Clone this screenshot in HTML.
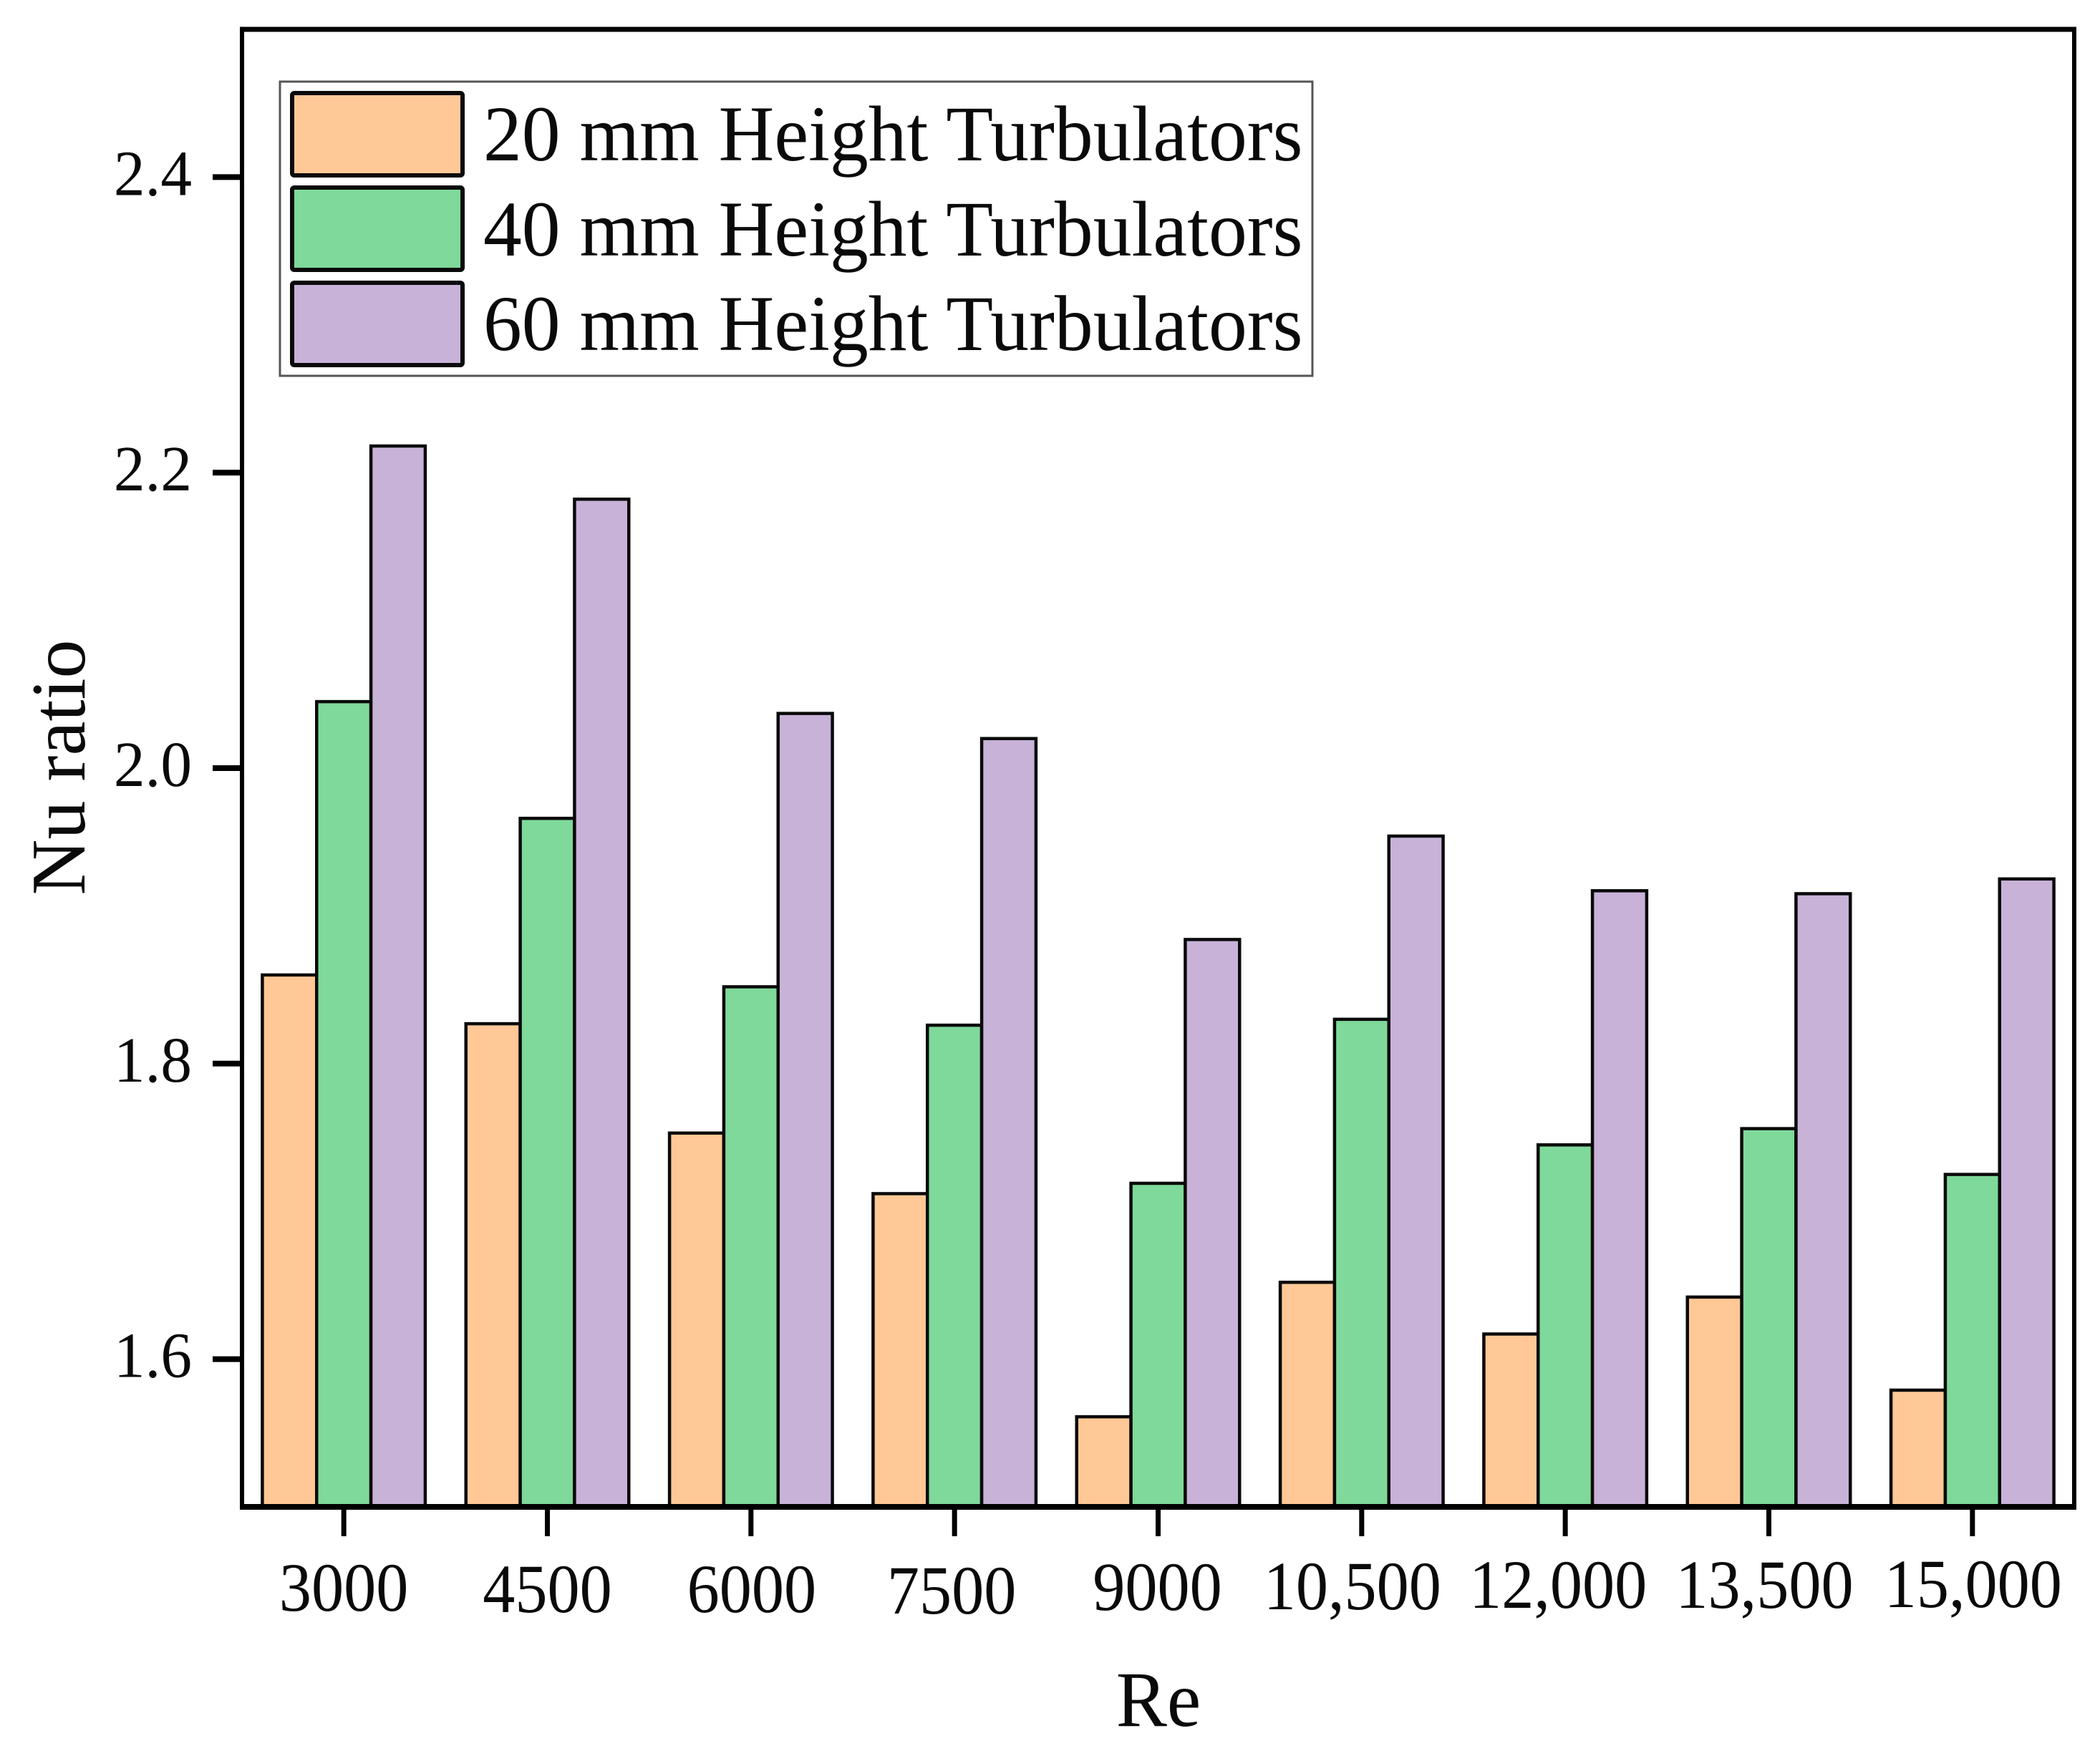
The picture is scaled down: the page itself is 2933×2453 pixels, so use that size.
<!DOCTYPE html>
<html lang="en">
<head>
<meta charset="utf-8">
<title>Nu ratio vs Re</title>
<style>
  html, body { margin: 0; padding: 0; background: #fff; }
  svg { display: block; }
  text { font-family: "Liberation Serif", "Times New Roman", serif; fill: #0a0a0a; }
</style>
</head>
<body>
<svg id="chart" xmlns="http://www.w3.org/2000/svg" width="2933" height="2453" viewBox="0 0 2933 2453">
  <rect x="0" y="0" width="2933" height="2453" fill="#ffffff"/>
  <g id="bars"></g>
  <g id="axes"></g>
  <text transform="translate(1618 2411) scale(0.97 1)" font-size="110" text-anchor="middle">Re</text>
  <text transform="translate(118 1072) rotate(-90)" font-size="108" text-anchor="middle">Nu ratio</text>
  <g>
    <rect x="391" y="114" width="1442" height="411" fill="#ffffff" stroke="#555555" stroke-width="3"/>
    <g>
      <rect x="408" y="130" width="238" height="115" rx="3" fill="#FFC896" stroke="#0a0a0a" stroke-width="6"/>
      <text transform="translate(675 224) scale(0.978 1)" font-size="110">20 mm Height Turbulators</text>
    </g>
    <g>
      <rect x="408" y="262" width="238" height="115" rx="3" fill="#7FD99A" stroke="#0a0a0a" stroke-width="6"/>
      <text transform="translate(675 357) scale(0.978 1)" font-size="110">40 mm Height Turbulators</text>
    </g>
    <g>
      <rect x="408" y="395" width="238" height="115" rx="3" fill="#C8B2D8" stroke="#0a0a0a" stroke-width="6"/>
      <text transform="translate(675 489) scale(0.978 1)" font-size="110">60 mm Height Turbulators</text>
    </g>
  </g>
</svg>
<script>
// Chart data
const categories = ["3000", "4500", "6000", "7500", "9000", "10,500", "12,000", "13,500", "15,000"];
const height20 = [1.860, 1.827, 1.753, 1.712, 1.561, 1.652, 1.617, 1.642, 1.579];
const height40 = [2.045, 1.966, 1.852, 1.826, 1.719, 1.830, 1.745, 1.756, 1.725];
const height60 = [2.218, 2.182, 2.037, 2.020, 1.884, 1.954, 1.917, 1.915, 1.925];
const yTicks = [1.6, 1.8, 2.0, 2.2, 2.4];
const yTickLabels = ["1.6", "1.8", "2.0", "2.2", "2.4"];

// Layout
const plot = { left: 338, right: 2897, top: 41, bottom: 2105 };
const yMin = 1.5;
const yMax = 2.5;
const SVG_NS = "http://www.w3.org/2000/svg";
const step = (plot.right - plot.left) / categories.length;
const barWidth = step * 0.2667;

function xScale(i) { return plot.left + step * (i + 0.5); }
function yScale(v) { return plot.bottom - (v - yMin) / (yMax - yMin) * (plot.bottom - plot.top); }

// Small hand-placement offsets of the category labels seen in the figure
const labelShiftX = [0, 0, 1, -4, -1, -13, -10, -6, 1];
const labelShiftY = [-1, 1, 1, 3, -2, -3, -5, -5, -6];

function make(tag, attrs, parent) {
  const el = document.createElementNS(SVG_NS, tag);
  for (const k in attrs) el.setAttribute(k, attrs[k]);
  parent.appendChild(el);
  return el;
}

const barsGroup = document.getElementById("bars");
const axesGroup = document.getElementById("axes");

function drawSeries(values, offset, fill, seriesName) {
  values.forEach(function (v, i) {
    const top = yScale(v);
    const x = xScale(i) + offset * barWidth - barWidth / 2;
    const bar = make("rect", { x: x, y: top, width: barWidth, height: plot.bottom - top, fill: fill, stroke: "#0a0a0a", "stroke-width": 4.5 }, barsGroup);
    
    
  });
}

drawSeries(height20, -1, "#FFC896", "20mm");
drawSeries(height40, 0, "#7FD99A", "40mm");
drawSeries(height60, 1, "#C8B2D8", "60mm");

const spineLeft = make("line", { x1: plot.left, x2: plot.left, y1: plot.top - 3, y2: plot.bottom + 3, stroke: "#000000", "stroke-width": 6 }, axesGroup);


const spineRight = make("line", { x1: plot.right, x2: plot.right, y1: plot.top - 3, y2: plot.bottom + 3, stroke: "#000000", "stroke-width": 6 }, axesGroup);


const spineTop = make("line", { x1: plot.left - 3, x2: plot.right + 3, y1: plot.top, y2: plot.top, stroke: "#000000", "stroke-width": 7 }, axesGroup);


const spineBottom = make("line", { x1: plot.left - 3, x2: plot.right + 3, y1: plot.bottom, y2: plot.bottom, stroke: "#000000", "stroke-width": 8 }, axesGroup);



yTicks.forEach(function (t, i) {
  const y = yScale(t);
  const tick = make("line", { x1: plot.left - 41, x2: plot.left, y1: y, y2: y, stroke: "#000000", "stroke-width": 8 }, axesGroup);
  
  
  const label = make("text", { transform: "translate(268 " + (y + 25) + ") scale(0.97 1)", "font-size": 90, "text-anchor": "end" }, axesGroup);
  label.textContent = yTickLabels[i];
  
  
});

categories.forEach(function (c, i) {
  const x = xScale(i);
  const tick = make("line", { x1: x, x2: x, y1: plot.bottom, y2: plot.bottom + 41, stroke: "#000000", "stroke-width": 7 }, axesGroup);
  
  
  const label = make("text", { transform: "translate(" + (x + labelShiftX[i]) + " " + (2251 + labelShiftY[i]) + ") scale(0.94 1)", "font-size": 96, "text-anchor": "middle" }, axesGroup);
  label.textContent = c;
  
  
});
</script>
</body>
</html>
